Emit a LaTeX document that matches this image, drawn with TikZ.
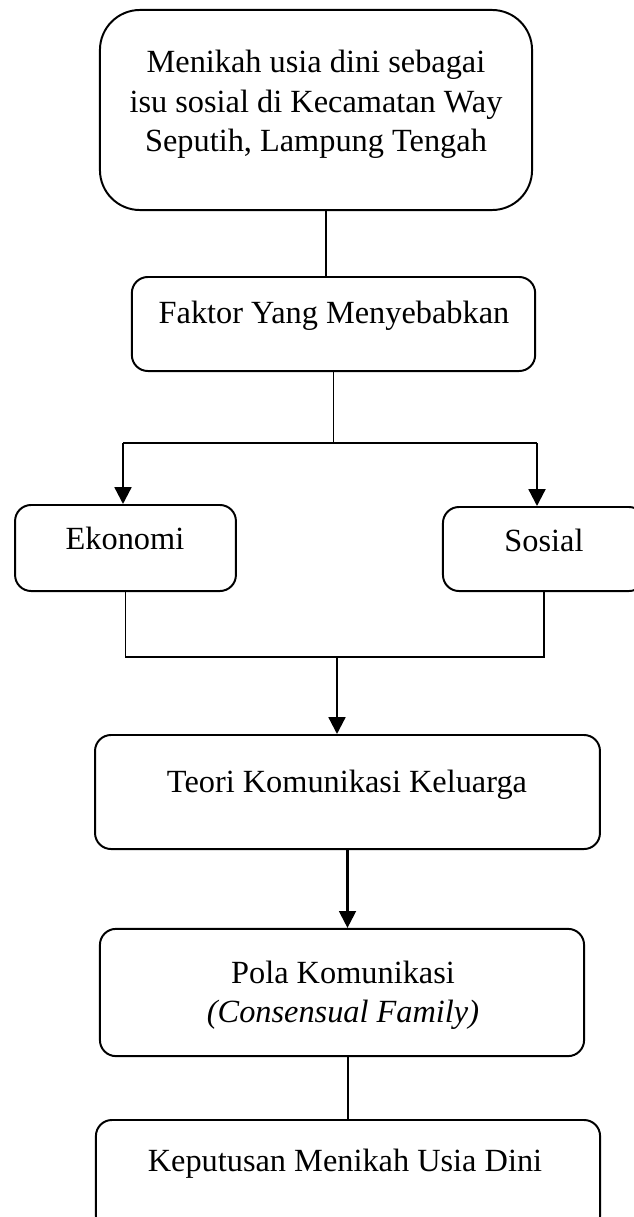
\documentclass[tikz,border=0pt]{standalone}
\usepackage{fontspec}
\setmainfont{Liberation Serif}
\usetikzlibrary{arrows.meta}

\tikzset{
  box/.style={draw, line width=0.7pt, rounded corners=0.2cm, inner sep=0},
  txt/.style={align=center, inner sep=0, font=\fontsize{11.5}{14}\selectfont},
  link/.style={line width=0.4pt},
  mergelink/.style={line width=0.6pt},
  arrowlink/.style={line width=0.8pt, -{Triangle[length=6pt,width=6pt]}},
}

\begin{document}
\begin{tikzpicture}[x=0.0125cm,y=-0.0125cm]
    \useasboundingbox (0,0) rectangle (634,1217);
    % kotak
    \node[box, rounded corners=0.5cm, minimum width=5.4cm, minimum height=2.5cm] (isu) at (316,110) {};
    \node[box, minimum width=5.04cm, minimum height=1.175cm] (faktor) at (333.5,324) {};
    \node[box, minimum width=2.76cm, minimum height=1.075cm] (ekonomi) at (125.5,548) {};
    \node[box, minimum width=2.525cm, minimum height=1.05cm] (sosial) at (544,549) {};
    \node[box, minimum width=6.31cm, minimum height=1.425cm] (teori) at (347.5,792) {};
    \node[box, minimum width=6.05cm, minimum height=1.59cm] (pola) at (342,992.5) {};
    \node[box, minimum width=6.3cm, minimum height=1.4cm] (keputusan) at (348,1176) {};
    % teks
    \node[txt] (isutxt) at (316,104.5) {Menikah usia dini sebagai\\isu sosial di Kecamatan Way\\Seputih, Lampung Tengah};
    \node[txt, anchor=base] (faktortxt) at (334,323) {Faktor Yang Menyebabkan};
    \node[txt, anchor=base] (ekonomitxt) at (125,549) {Ekonomi};
    \node[txt, anchor=base] (sosialtxt) at (544,551) {Sosial};
    \node[txt, anchor=base] (teoritxt) at (347,792) {Teori Komunikasi Keluarga};
    \node[txt] (polatxt) at (343,995.5) {Pola Komunikasi\\\textit{(Consensual Family)}};
    \node[txt, anchor=base] (keputusantxt) at (345,1171) {Keputusan Menikah Usia Dini};
    % titik cabang
    \coordinate (isubawah) at ([xshift=0.125cm]isu.south);
    \coordinate (split) at (333.5,443);
    \coordinate (splitL) at (123,443);
    \coordinate (splitR) at (537,443);
    \coordinate (merge) at (337,657);
    % garis
    \draw[link] (isubawah) -- (isubawah |- faktor.north);
    \draw[link] (faktor.south) -- (split);
    \draw[link] (splitL) -- (splitR);
    \draw[arrowlink] (splitL) -- (splitL |- ekonomi.north);
    \draw[arrowlink] (splitR) -- (splitR |- sosial.north);
    \draw[mergelink] (ekonomi.south) |- (merge) -| (sosial.south);
    \draw[arrowlink] (merge) -- (merge |- teori.north);
    \draw[arrowlink] (teori.south) -- (teori.south |- pola.north);
    \draw[line width=0.8pt] (pola.south -| keputusan.north) -- (keputusan.north);
\end{tikzpicture}
\end{document}
